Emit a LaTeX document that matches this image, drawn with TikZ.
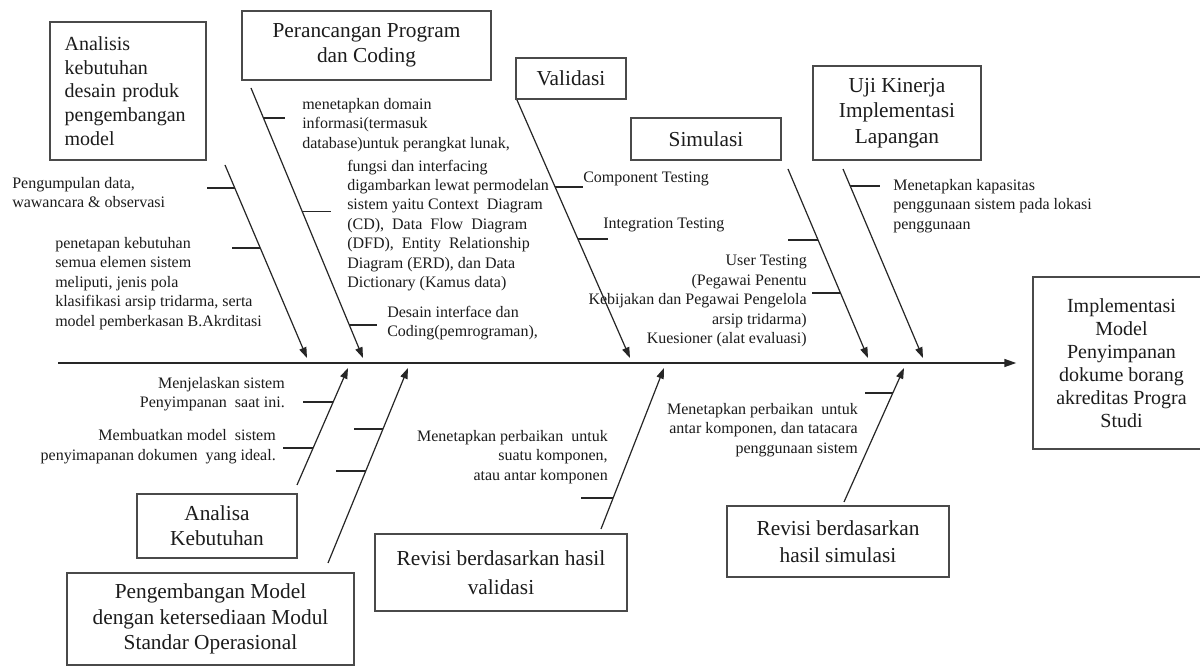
\documentclass[tikz,border=0pt]{standalone}
\usepackage{fontspec}
\setmainfont{Liberation Serif}
\usepackage{xcolor}
\definecolor{cLine}{HTML}{262626}
\definecolor{cBox}{HTML}{4A4A4A}
\definecolor{cText}{HTML}{1C1C1C}
\usepackage{tikz}
\usetikzlibrary{arrows.meta,calc}
\tikzset{
  node-box/.style={draw=cBox,line width=1.1pt,align=center,inner sep=2pt,
    font=\fontsize{16}{19}\selectfont,text=cText},
  node-note/.style={inner sep=0pt,font=\fontsize{12}{14.6}\selectfont,text=cText},
  % tulang ikan: panah miring ke garis utama
  bone/.style={-{Triangle[length=8pt,width=5.5pt]},line width=0.9pt,draw=cLine},
  spine/.style={-{Triangle[length=9pt,width=6pt]},line width=1.1pt,draw=cLine},
  tick/.style={line width=0.9pt,draw=cLine},
}

\begin{document}
\begin{tikzpicture}[x=0.75pt,y=-0.75pt]
  \clip (0,0) rectangle (1200,666);
  \fill[white] (0,0) rectangle (1200,666);

  % kotak atas
  \node[node-box,minimum width=117pt,minimum height=103.5pt,align=left,text width=95pt,
    font=\fontsize{15}{17.8}\selectfont] (analisis) at (128,91)
    {Analisis\\kebutuhan\\desain produk\\pengembangan\\model};
  \node[node-box,minimum width=186.75pt,minimum height=51.75pt] (perancangan) at (366.5,45.5)
    {Perancangan Program\\dan Coding};
  \node[node-box,minimum width=82.5pt,minimum height=30.75pt] (validasi) at (571,78.5) {Validasi};
  \node[node-box,minimum width=112.5pt,minimum height=31.5pt] (simulasi) at (706,139) {Simulasi};
  \node[node-box,minimum width=126pt,minimum height=70.5pt] (ujikinerja) at (897,113)
    {Uji Kinerja\\Implementasi\\Lapangan};

  % kotak bawah
  \node[node-box,minimum width=120pt,minimum height=48pt] (analisa) at (217,526)
    {Analisa\\Kebutuhan};
  \node[node-box,minimum width=215.25pt,minimum height=69pt] (pengembangan) at (210.5,619)
    {Pengembangan Model\\dengan ketersediaan Modul\\Standar Operasional};
  \node[node-box,minimum width=189pt,minimum height=57.75pt,font=\fontsize{16}{21.5}\selectfont]
    (revvalidasi) at (501,572.5) {Revisi berdasarkan hasil\\validasi};
  \node[node-box,minimum width=166.5pt,minimum height=53.25pt,font=\fontsize{16}{20}\selectfont]
    (revsimulasi) at (838,541.5) {Revisi berdasarkan\\hasil simulasi};

  % hasil akhir
  \node[node-box,minimum width=132.75pt,minimum height=129pt,font=\fontsize{15}{17.3}\selectfont]
    (hasil) at (1121.5,363)
    {Implementasi\\Model\\Penyimpanan\\dokume borang\\akreditas Progra\\Studi};

  % garis utama
  \coordinate (spine-s) at (58,363);
  \draw[spine,shorten >=12pt] (spine-s) -- (hasil.west);

  % tulang atas
  \coordinate (a-s) at (225,165); \coordinate (a-e) at (307,358);
  \coordinate (b-s) at (251,88);  \coordinate (b-e) at (363,358);
  \coordinate (c-s) at (517,100); \coordinate (c-e) at (630,358);
  \coordinate (d-s) at (788,169); \coordinate (d-e) at (868,358);
  \coordinate (e-s) at (843,169); \coordinate (e-e) at (923,358);
  \draw[bone] (a-s) -- (a-e);
  \draw[bone] (b-s) -- (b-e);
  \draw[bone] (c-s) -- (c-e);
  \draw[bone] (d-s) -- (d-e);
  \draw[bone] (e-s) -- (e-e);

  % tulang bawah
  \coordinate (f-s) at (297,485); \coordinate (f-e) at (348,368);
  \coordinate (g-s) at (328,563); \coordinate (g-e) at (408,368);
  \coordinate (h-s) at (601,529); \coordinate (h-e) at (664,368);
  \coordinate (i-s) at (844,502); \coordinate (i-e) at (904,368);
  \draw[bone] (f-s) -- (f-e);
  \draw[bone] (g-s) -- (g-e);
  \draw[bone] (h-s) -- (h-e);
  \draw[bone] (i-s) -- (i-e);

  % ranting
  \draw[tick] ($(a-s)!0.119!(a-e)$) -- ++(-28,0);
  \draw[tick] ($(a-s)!0.430!(a-e)$) -- ++(-28,0);
  \draw[tick] ($(b-s)!0.111!(b-e)$) -- ++(22,0);
  \draw[tick] ($(b-s)!0.456!(b-e)$) -- ++(29,0);
  \draw[tick] ($(b-s)!0.878!(b-e)$) -- ++(28,0);
  \draw[tick] ($(c-s)!0.337!(c-e)$) -- ++(28,0);
  \draw[tick] ($(c-s)!0.539!(c-e)$) -- ++(30,0);
  \draw[tick] ($(d-s)!0.376!(d-e)$) -- ++(-30,0);
  \draw[tick] ($(d-s)!0.656!(d-e)$) -- ++(-28,0);
  \draw[tick] ($(e-s)!0.090!(e-e)$) -- ++(30,0);
  \draw[tick] ($(f-s)!0.709!(f-e)$) -- ++(-30,0);
  \draw[tick] ($(f-s)!0.316!(f-e)$) -- ++(-30,0);
  \draw[tick] ($(g-s)!0.687!(g-e)$) -- ++(-29,0);
  \draw[tick] ($(g-s)!0.472!(g-e)$) -- ++(-30,0);
  \draw[tick] ($(h-s)!0.193!(h-e)$) -- ++(-32,0);
  \draw[tick] ($(i-s)!0.813!(i-e)$) -- ++(-28,0);

  % keterangan
  \node[node-note,anchor=west,align=left] (note-kumpul) at (12,192.5)
    {Pengumpulan data,\\wawancara \& observasi};
  \node[node-note,anchor=west,align=left] (note-tetap) at (55,283.5)
    {penetapan kebutuhan\\semua elemen sistem\\meliputi, jenis pola\\klasifikasi arsip tridarma, serta\\model pemberkasan B.Akrditasi};
  \node[node-note,anchor=west,align=left] (note-domain) at (302,125)
    {menetapkan domain\\informasi(termasuk\\database)untuk perangkat lunak,};
  \node[node-note,anchor=west,align=left] (note-fungsi) at (347,225.5)
    {fungsi dan interfacing\\digambarkan lewat permodelan\\sistem yaitu Context\ \ Diagram\\(CD),\ \ Data\ \ Flow\ \ Diagram\\(DFD),\ \ Entity\ \ Relationship\\Diagram (ERD), dan Data\\Dictionary (Kamus data)};
  \node[node-note,anchor=west,align=left] (note-desain) at (387,323)
    {Desain interface dan\\Coding(pemrograman),};
  \node[node-note,anchor=west] (note-component) at (583,179) {Component Testing};
  \node[node-note,anchor=west] (note-integration) at (603,225) {Integration Testing};
  \node[node-note,anchor=east,align=right] (note-user) at (807,301)
    {User Testing\\(Pegawai Penentu\\Kebijakan dan Pegawai Pengelola\\arsip tridarma)\\Kuesioner (alat evaluasi)};
  \node[node-note,anchor=west,align=left] (note-kapasitas) at (893,206)
    {Menetapkan kapasitas\\penggunaan sistem pada lokasi\\penggunaan};
  \node[node-note,anchor=east,align=right] (note-jelaskan) at (285,394)
    {Menjelaskan sistem\\Penyimpanan\ \ saat ini.};
  \node[node-note,anchor=east,align=right] (note-buat) at (276,446.5)
    {Membuatkan model\ \ sistem\\penyimapanan dokumen\ \ yang ideal.};
  \node[node-note,anchor=east,align=right] (note-perbaikan1) at (608,457)
    {Menetapkan perbaikan\ \ untuk\\suatu komponen,\\atau antar komponen};
  \node[node-note,anchor=east,align=right] (note-perbaikan2) at (858,430)
    {Menetapkan perbaikan\ \ untuk\\antar komponen, dan tatacara\\penggunaan sistem};
\end{tikzpicture}
\end{document}
